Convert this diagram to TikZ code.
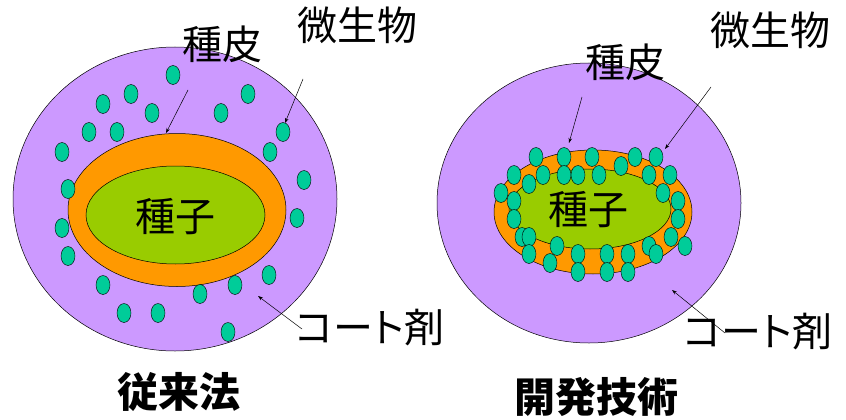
\documentclass[tikz,border=0pt]{standalone}
\usepackage{fontspec}
\newfontfamily\jp{Noto Sans CJK JP}
\newfontfamily\jpp[RawFeature=+palt]{Noto Sans CJK JP}
\usetikzlibrary{shapes.geometric,arrows.meta}
\definecolor{coat}{HTML}{CC99FF}
\definecolor{skin}{HTML}{FF9900}
\definecolor{seed}{HTML}{99CC00}
\definecolor{microbe}{HTML}{00CC99}
\begin{document}
\begin{tikzpicture}[x=1pt,y=-1pt,
  layer/.style={ellipse,draw=black,line width=0.5pt,inner sep=0pt},
  lbl/.style={font=\jp\fontsize{40}{40}\selectfont,inner sep=0pt},
  plbl/.style={font=\jpp\fontsize{40}{40}\selectfont,inner sep=0pt},
  ttl/.style={font=\jp\bfseries\fontsize{41}{41}\selectfont,inner sep=0pt},
  ptr/.style={line width=0.5pt,-{Stealth[length=5pt,width=3.5pt]}},
  mic/.style={fill=microbe,draw=black,line width=0.4pt}]
\useasboundingbox (0,0) rectangle (846,420);
% ---- left: conventional ----
\node[layer,fill=coat,minimum width=324,minimum height=304] (Lcoat) at (175,199) {};
\node[layer,fill=skin,minimum width=218,minimum height=153] (Lskin) at (177,210) {};
\node[layer,fill=seed,minimum width=179,minimum height=98] (Lseed) at (175.5,215) {};
\node[lbl] (Lseedt) at (175,217) {種子};
\foreach \x/\y in {173/75,131/94,103/104,152/113,248/94,221/113,89/132,117/132,283/132,62/152,270/152,68/189,304/180,62/228,297/218,68/256,103/285,269/275,235/285,200/294,124/313,158/313,228/332}
  \draw[mic] (\x,\y) ellipse [x radius=7, y radius=9.5];
\node[lbl] (Lskinl) at (222,44) {種皮};
\node[lbl] (Lmicl) at (357,25) {微生物};
\node[plbl] (Lcoatl) at (370,328) {コート剤};
\node[ttl] (Lttl) at (179,392) {従来法};
\coordinate (La1) at (188,90);  \coordinate (Lb1) at (166,133);
\coordinate (La2) at (303,79);  \coordinate (Lb2) at (285,123);
\coordinate (La3) at (302,329); \coordinate (Lb3) at (258,296);
\draw[ptr] (La1) -- (Lb1);
\draw[ptr] (La2) -- (Lb2);
\draw[ptr] (La3) -- (Lb3);
% ---- right: developed ----
\node[layer,fill=coat,minimum width=304,minimum height=280] (Rcoat) at (589,203) {};
\node[layer,fill=skin,minimum width=198,minimum height=124] (Rskin) at (593,212) {};
\node[layer,fill=seed,minimum width=162,minimum height=80] (Rseed) at (590,209) {};
\node[lbl] (Rseedt) at (588,210) {種子};
\foreach \x/\y in {536/157,564/157,592/157,621/166,635/157,656/157,514/175,543/175,564/175,578/175,599/175,649/175,670/175,529/184,501/193,663/193,514/201,678/201,514/219,678/219,522/237,529/237,671/237,685/246,557/246,649/246,529/254,578/254,607/254,628/254,656/254,550/263,578/272,607/272,628/272}
  \draw[mic] (\x,\y) ellipse [x radius=7, y radius=9.5];
\node[lbl] (Rskinl) at (625,62) {種皮};
\node[lbl] (Rmicl) at (770,30) {微生物};
\node[plbl] (Rcoatl) at (758,332) {コート剤};
\node[ttl] (Rttl) at (596,397) {開発技術};
\coordinate (Ra1) at (582,97);  \coordinate (Rb1) at (569,143);
\coordinate (Ra2) at (711,87);  \coordinate (Rb2) at (665,149);
\coordinate (Ra3) at (725,333); \coordinate (Rb3) at (672,290);
\draw[ptr] (Ra1) -- (Rb1);
\draw[ptr] (Ra2) -- (Rb2);
\draw[ptr] (Ra3) -- (Rb3);
\end{tikzpicture}
\end{document}
